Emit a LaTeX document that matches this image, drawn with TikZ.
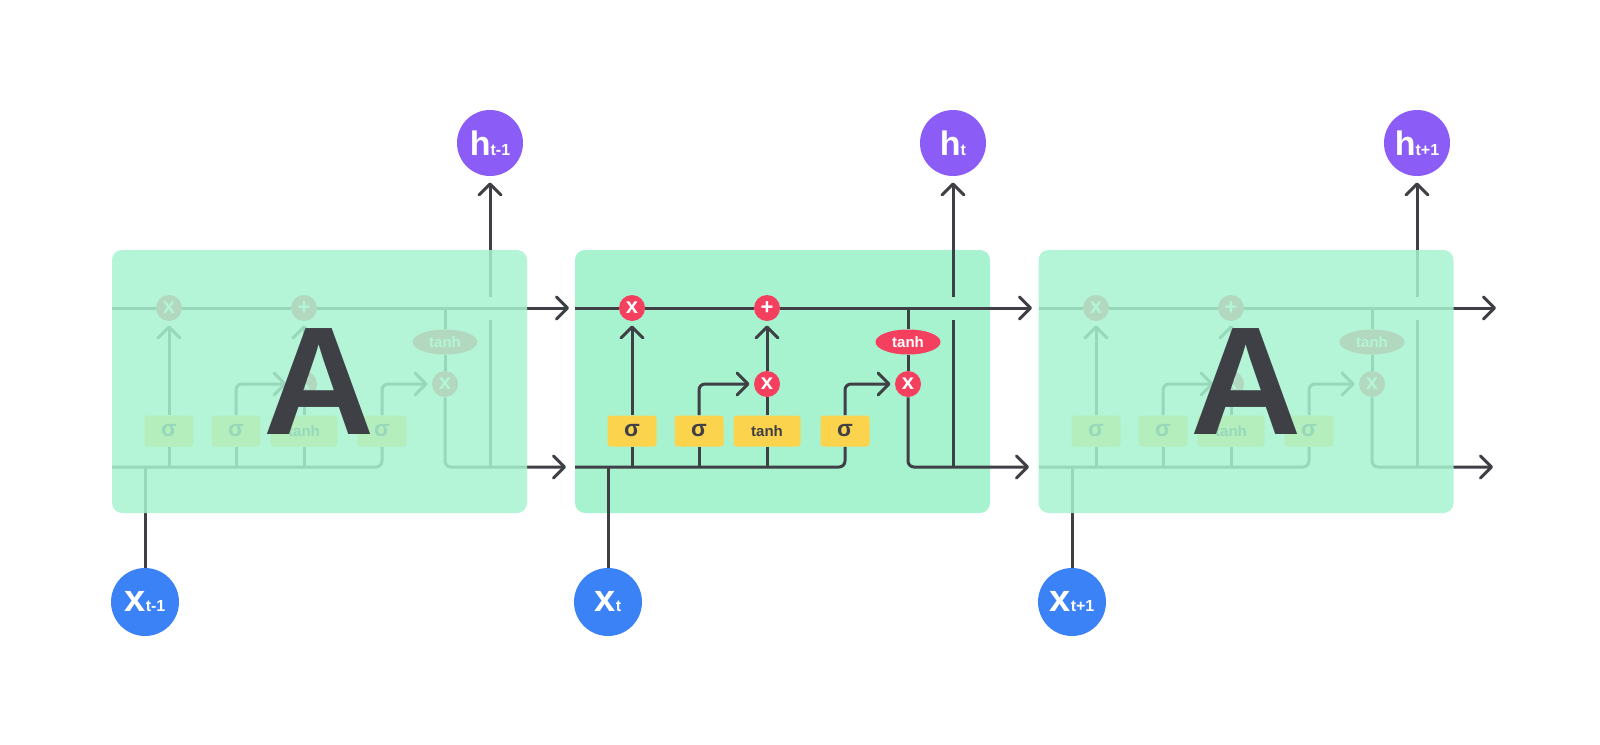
\documentclass[tikz,border=0pt]{standalone}
\usepackage{xcolor}
\usepackage{fontspec}
\setmainfont{Liberation Sans}
\usepackage{tikz}
\usetikzlibrary{positioning, arrows.meta, calc, shapes.geometric}
\definecolor{cellgreen}{HTML}{A7F3D0}
\definecolor{darkline}{HTML}{3F3F46}
\definecolor{opred}{HTML}{F43F5E}
\definecolor{gateyellow}{HTML}{FCD34D}
\definecolor{hpurple}{HTML}{8B5CF6}
\definecolor{xblue}{HTML}{3B82F6}

\tikzset{
    >={Straight Barb[length=5.5pt, width=11pt, round]},
    conn/.style={draw=darkline, line width=1.5pt},
    cellbox/.style={fill=cellgreen, rounded corners=5pt, minimum width=207.5pt,
        minimum height=131.5pt, inner sep=0pt},
    fadedbox/.style={cellbox, fill opacity=.85, text opacity=1, text=darkline,
        font=\bfseries\fontsize{77pt}{77pt}\selectfont},
    gatebox/.style={fill=gateyellow, rounded corners=1.5pt, minimum width=24.5pt,
        minimum height=15.5pt, inner sep=0pt, text=darkline,
        font=\bfseries\fontsize{11.5pt}{12pt}\selectfont},
    opnode/.style={circle, fill=opred, minimum size=13pt, inner sep=0pt, text=white,
        font=\bfseries\fontsize{11pt}{11pt}\selectfont},
    tanhnode/.style={ellipse, fill=opred, minimum width=32.5pt, minimum height=12.5pt,
        inner sep=0pt, text=white, font=\bfseries\fontsize{7.5pt}{8pt}\selectfont},
    hnode/.style={circle, fill=hpurple, minimum size=33pt, inner sep=0pt, text=white,
        font=\bfseries},
    xnode/.style={circle, fill=xblue, minimum size=34pt, inner sep=0pt, text=white,
        font=\bfseries},
}

% one LSTM cell: name, shift, subscript
\newcommand{\lstmcell}[3]{%
    \begin{scope}[shift={(#2,0)}]
        \node[gatebox] (#1-s1) at (632,431) {σ};
        \node[gatebox] (#1-s2) at (699,431) {σ};
        \node[gatebox, minimum width=33.5pt, font=\bfseries\fontsize{7.5pt}{8pt}\selectfont]
            (#1-tb) at (767,431) {tanh};
        \node[gatebox] (#1-s3) at (845,431) {σ};
        \node[opnode] (#1-f) at (632,308) {x};
        \node[opnode] (#1-p) at (767,308) {+};
        \node[opnode] (#1-m) at (767,384) {x};
        \node[opnode] (#1-o) at (908,384) {x};
        \node[tanhnode] (#1-th) at (908,342) {tanh};
        \node[hnode] (#1-h) at (953,143)
            {{\fontsize{17pt}{17pt}\selectfont h}{\fontsize{8pt}{8pt}\selectfont #3}};
        \node[xnode] (#1-x) at (608,602)
            {{\fontsize{19pt}{19pt}\selectfont x}{\fontsize{8pt}{8pt}\selectfont #3}};
        \coordinate (#1-cin) at (575,308);
        \coordinate (#1-cout) at (1032,308);
        \coordinate (#1-hin) at (575,467);
        \coordinate (#1-hout) at (1029,467);
        \coordinate (#1-br) at (908,308);
        \coordinate (#1-ht) at (953,297);
        \coordinate (#1-hs) at (953,320);
        \coordinate (#1-hj) at (953,467);

        \draw[conn, ->] (#1-cin) -- (#1-f) -- (#1-p) -- (#1-cout);
        \draw[conn, rounded corners=3pt] (#1-hin) -| (#1-s3);
        \draw[conn] (#1-s1) -- (#1-s1 |- #1-hin);
        \draw[conn] (#1-s2) -- (#1-s2 |- #1-hin);
        \draw[conn] (#1-tb) -- (#1-tb |- #1-hin);
        \draw[conn] (#1-x) -- (#1-x |- #1-hin);
        \draw[conn, ->, shorten >=2pt] (#1-s1) -- (#1-f);
        \draw[conn, ->, rounded corners=3pt, shorten >=2pt] (#1-s2) |- (#1-m);
        \draw[conn] (#1-tb) -- (#1-m);
        \draw[conn, ->, shorten >=2pt] (#1-m) -- (#1-p);
        \draw[conn, ->, rounded corners=3pt, shorten >=2pt] (#1-s3) |- (#1-o);
        \draw[conn] (#1-br) -- (#1-th) -- (#1-o);
        \draw[conn, ->, rounded corners=3pt] (#1-o) |- (#1-hout);
        \draw[conn] (#1-hs) -- (#1-hj);
        \draw[conn, ->, shorten >=3pt] (#1-ht) -- (#1-h);
    \end{scope}}

\begin{document}
\begin{tikzpicture}[x=0.5pt, y=-0.5pt]
    \fill[white] (0,0) rectangle (1600,744);
    \useasboundingbox (0,0) rectangle (1600,744);
    \node[cellbox] (M-box) at (782.5,381.5) {};
    \lstmcell{L}{-463}{t-1}
    \lstmcell{M}{0}{t}
    \lstmcell{R}{464}{t+1}
    \node[fadedbox] (L-box) at (319.5,381.5) {A};
    \node[fadedbox] (R-box) at (1246,381.5) {A};
\end{tikzpicture}
\end{document}
